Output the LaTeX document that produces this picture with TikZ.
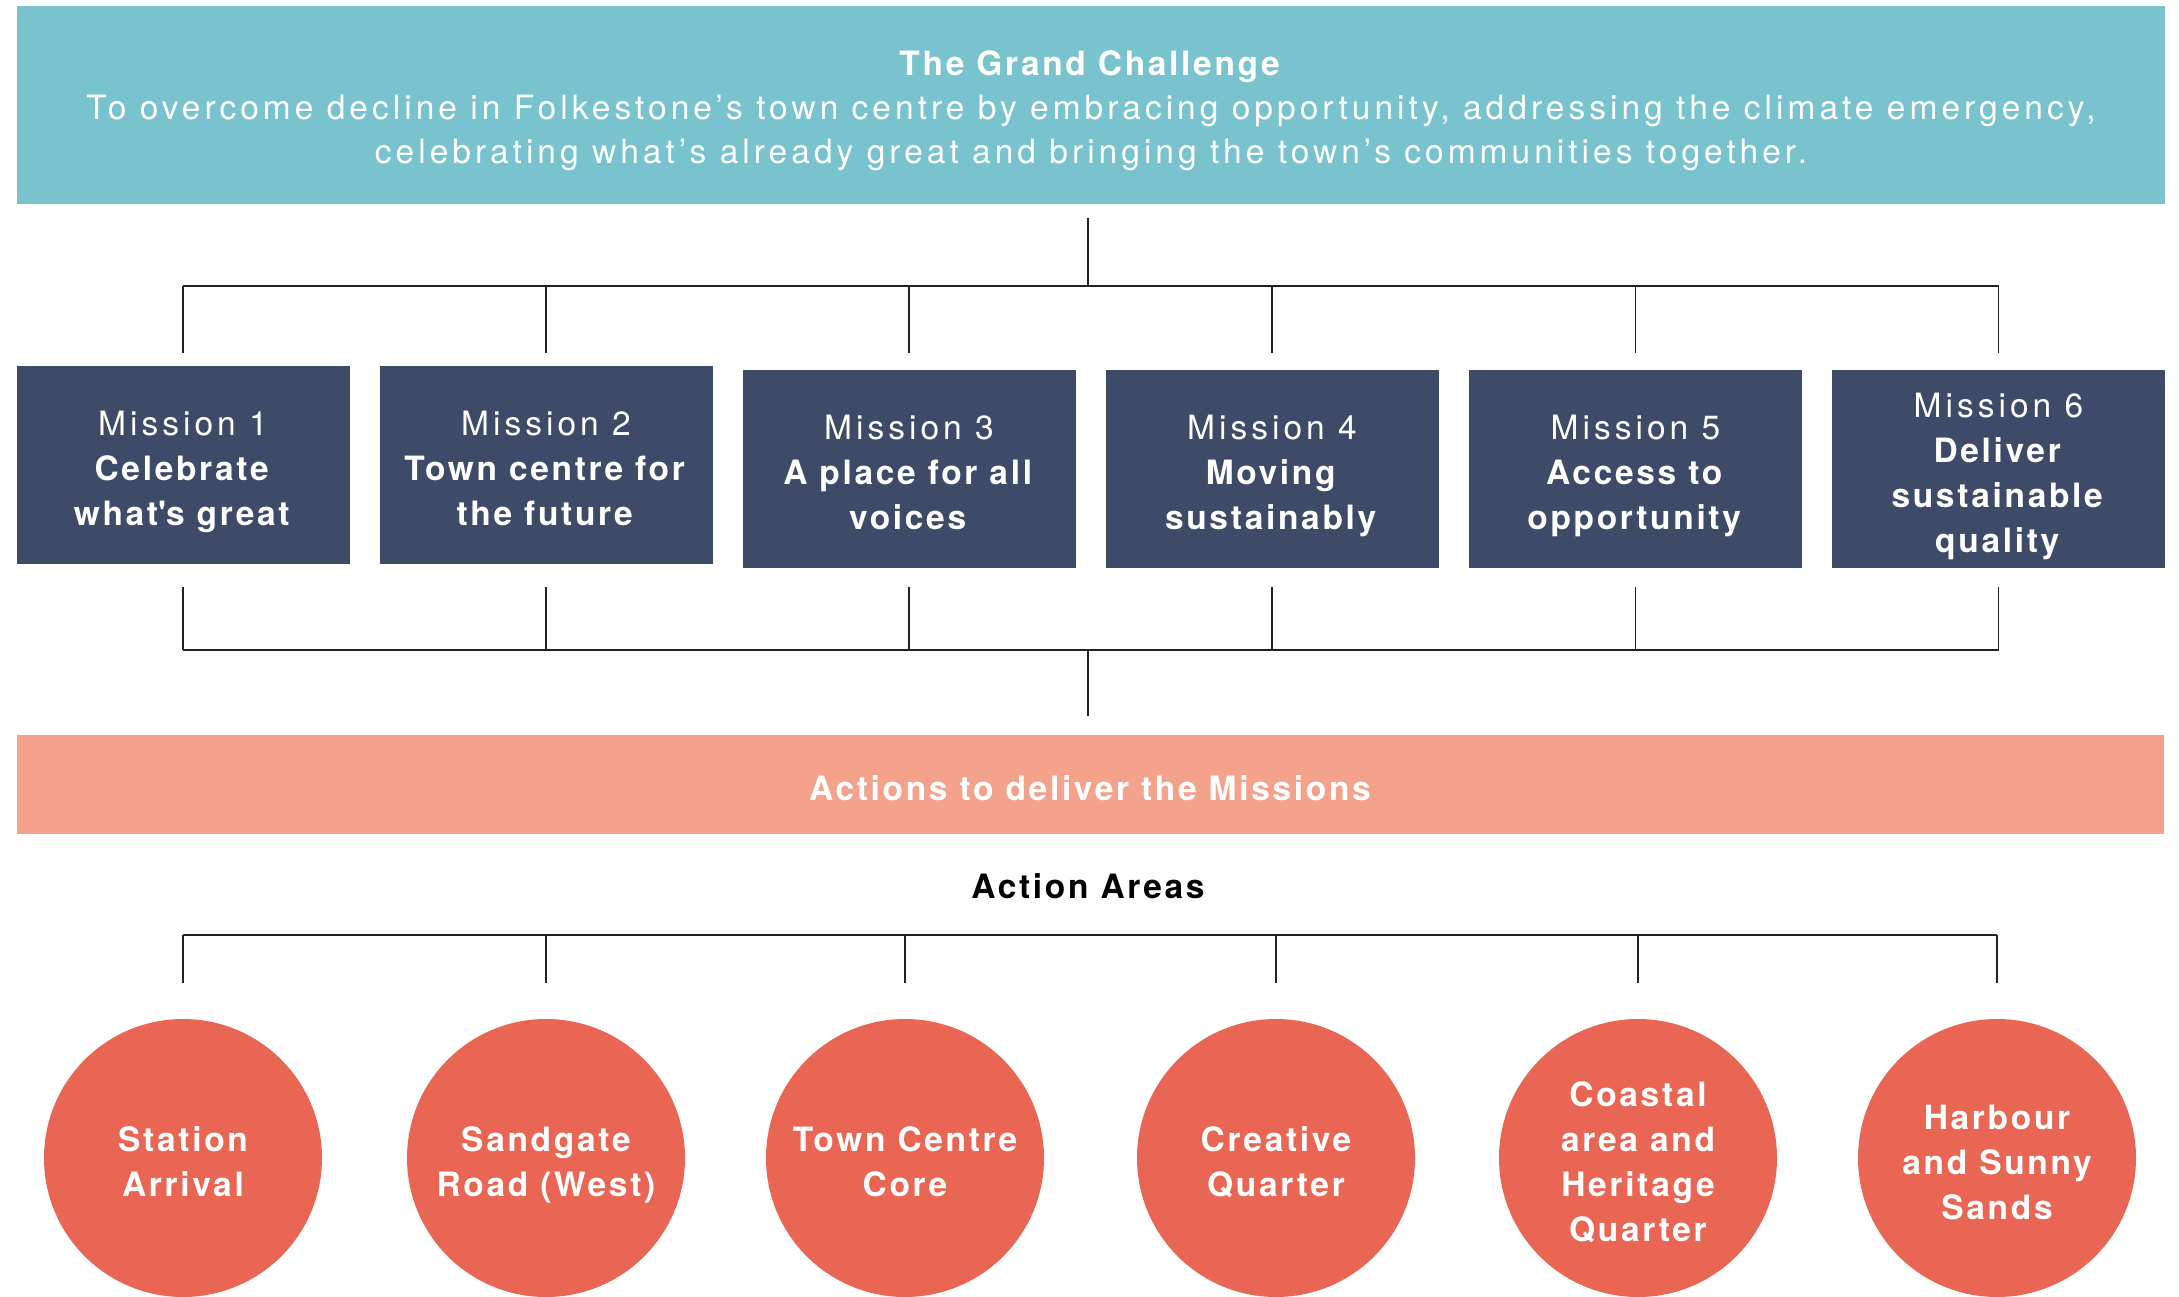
\documentclass[tikz,border=0pt]{standalone}
\usepackage{fontspec}
\setmainfont{TeX Gyre Heros}[UprightFeatures={LetterSpace=12}, BoldFeatures={LetterSpace=8}]
\usetikzlibrary{calc}
\definecolor{cTeal}{HTML}{78C3CD}
\definecolor{cNavy}{HTML}{3D4A68}
\definecolor{cSalmon}{HTML}{F4A28B}
\definecolor{cRed}{HTML}{EA6654}
\definecolor{cLine}{HTML}{222222}
\newcommand\lnstrut{\rule[-0.22em]{0pt}{0.938em}}
\tikzset{
  txt/.style={font=\fontsize{33.5}{45}\selectfont, align=center, inner sep=0pt},
  banner/.style={fill=cTeal, minimum width=2148pt, minimum height=198pt, inner sep=0pt},
  bannertext/.style={txt, text=white, font=\fontsize{33.5}{44}\selectfont, yshift=-5.7pt},
  mbox/.style={fill=cNavy, minimum width=333pt, minimum height=198pt, inner sep=0pt},
  mtext/.style={txt, text=white, yshift=-7pt},
  actbar/.style={fill=cSalmon, minimum width=2147pt, minimum height=99pt, inner sep=0pt},
  area/.style={circle, fill=cRed, minimum size=278pt, inner sep=0pt},
  areatext/.style={txt, text=white, font=\bfseries\fontsize{33.5}{45}\selectfont, yshift=-7.5pt},
  conn/.style={draw=cLine, line width=1.3pt},
  bar/.style={draw=cLine, line width=2pt},
}
\begin{document}
\begin{tikzpicture}[x=1pt,y=-1pt]
\useasboundingbox (0,0) rectangle (2179,1297);
\fill[white] (0,0) rectangle (2179,1297);

% Grand challenge banner
\node[banner] (banner) at (1091,105) {};
\node[bannertext] (bannert) at (banner.center) {\lnstrut\textbf{The Grand Challenge}\\
To overcome decline in Folkestone’s town centre by embracing opportunity, addressing the climate emergency,\\
\lnstrut celebrating what’s already great and bringing the town’s communities together.};

% Missions
\node[mbox] (m1) at (183,465) {};
\node[mbox] (m2) at (546,465) {};
\node[mbox] (m3) at (909,469) {};
\node[mbox] (m4) at (1272,469) {};
\node[mbox] (m5) at (1635.5,469) {};
\node[mbox] (m6) at (1998.5,469) {};
\node[mtext] (m1t) at (m1.center) {\lnstrut Mission 1\\\textbf{Celebrate}\\\lnstrut\textbf{what\textquotesingle s great}};
\node[mtext] (m2t) at (m2.center) {\lnstrut Mission 2\\\textbf{Town centre for}\\\lnstrut\textbf{the future}};
\node[mtext] (m3t) at (m3.center) {\lnstrut Mission 3\\\textbf{A place for all}\\\lnstrut\textbf{voices}};
\node[mtext] (m4t) at (m4.center) {\lnstrut Mission 4\\\textbf{Moving}\\\lnstrut\textbf{sustainably}};
\node[mtext] (m5t) at (m5.center) {\lnstrut Mission 5\\\textbf{Access to}\\\lnstrut\textbf{opportunity}};
\node[mtext] (m6t) at (m6.center) {\lnstrut Mission 6\\\textbf{Deliver}\\\textbf{sustainable}\\\lnstrut\textbf{quality}};

% Actions bar and label
\node[actbar] (act) at (1090.5,784.5) {};
\node[txt, text=white, font=\bfseries\fontsize{33.5}{45}\selectfont, anchor=base] (actt) at (1090,800) {Actions to deliver the Missions};
\node[txt, text=black, font=\bfseries\fontsize{33.5}{45}\selectfont, anchor=base] (aa) at (1088,898) {Action Areas};

% Action areas
\node[area] (c1) at (183,1158) {};
\node[area] (c2) at (546,1158) {};
\node[area] (c3) at (905,1158) {};
\node[area] (c4) at (1276,1158) {};
\node[area] (c5) at (1638,1158) {};
\node[area] (c6) at (1997,1158) {};
\node[areatext] (c1t) at (c1.center) {\lnstrut Station\\\lnstrut Arrival};
\node[areatext] (c2t) at (c2.center) {\lnstrut Sandgate\\\lnstrut Road (West)};
\node[areatext] (c3t) at (c3.center) {\lnstrut Town Centre\\\lnstrut Core};
\node[areatext] (c4t) at (c4.center) {\lnstrut Creative\\\lnstrut Quarter};
\node[areatext] (c5t) at (c5.center) {\lnstrut Coastal\\area and\\Heritage\\\lnstrut Quarter};
\node[areatext] (c6t) at (c6.center) {\lnstrut Harbour\\and Sunny\\\lnstrut Sands};

% connector coordinates
\coordinate (tb) at (1088,286);
\coordinate (bb) at (1088,650);
\coordinate (lb) at (1088,935);

% top tree
\draw[conn, shorten <=14pt] (banner.south -| tb) -- (tb);
\draw[bar] (m1 |- tb) -- (m6 |- tb);
\foreach \i/\s in {1/13,2/13,3/17,4/17,5/17,6/17}
  \draw[conn, shorten >=\s pt] (m\i |- tb) -- (m\i.north);

% bottom tree of missions
\foreach \i/\s in {1/23,2/23,3/19,4/19,5/19,6/19}
  \draw[conn, shorten <=\s pt] (m\i.south) -- (m\i |- bb);
\draw[bar] (m1 |- bb) -- (m6 |- bb);
\draw[conn, shorten >=19pt] (bb) -- (bb |- act.north);

% action areas tree
\draw[bar] (c1 |- lb) -- (c6 |- lb);
\foreach \i in {1,...,6}
  \draw[conn, shorten >=36pt] (c\i |- lb) -- (c\i.north);
\end{tikzpicture}
\end{document}
